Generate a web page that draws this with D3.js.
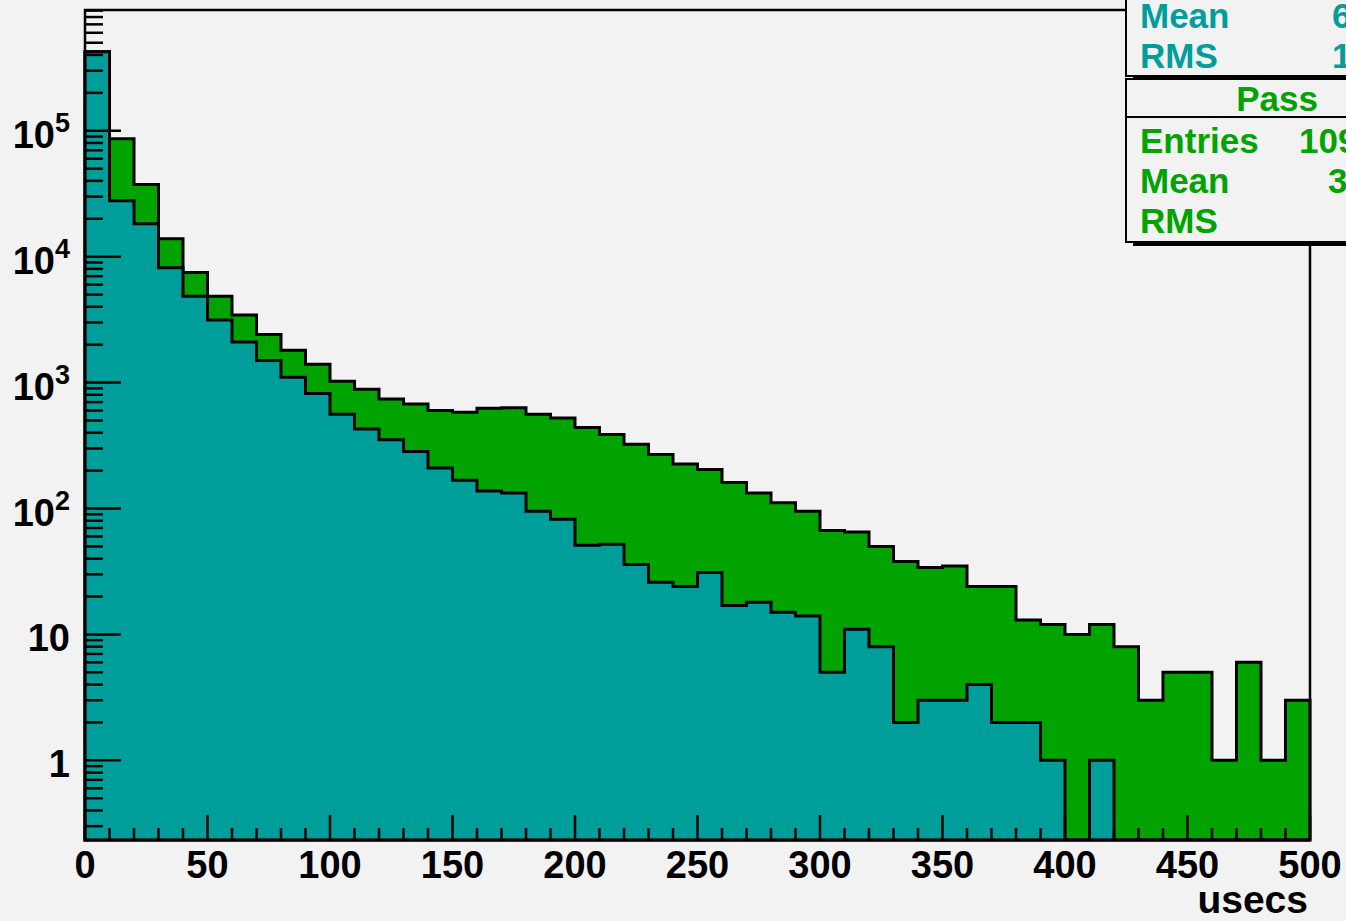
<!DOCTYPE html>
<html>
<head>
<meta charset="utf-8">
<script src="https://cdn.jsdelivr.net/npm/d3@7/dist/d3.min.js"></script>
<style>
  html, body { margin: 0; padding: 0; background: #f2f2f2; overflow: hidden; }
  svg { display: block; }
  text { font-family: "Liberation Sans", Arial, Helvetica, sans-serif; font-weight: bold; }
</style>
</head>
<body>
<svg id="chart" width="1346" height="921"></svg>
<script>
// ---- data ----
const binStarts = [0,10,20,30,40,50,60,70,80,90,100,110,120,130,140,150,160,170,180,190,
                   200,210,220,230,240,250,260,270,280,290,300,310,320,330,340,350,360,370,380,390,
                   400,410,420,430,440,450,460,470,480,490];
const binWidth = 10;
const tealCounts = [424000,27800,18300,8180,4840,3140,2100,1496,1102,818,
                    560,428,352,283,210,168,138,133,95,82,
                    51,52,36,26,24,31,17,18,15,14,
                    5,11,8,2,3,3,4,2,2,1,
                    0,1,0,0,0,0,0,0,0,0];
const passCounts = [424000,86500,37500,13900,7500,4840,3440,2405,1803,1397,
                    1024,885,741,677,600,581,625,632,560,524,
                    440,387,324,268,226,204,161,133,111,95,
                    67,65,50,38,34,35,24,24,13,12,
                    10,12,8,3,5,5,1,6,1,3];
const xTickValues = [0,50,100,150,200,250,300,350,400,450,500];
const xTickLabels = ["0","50","100","150","200","250","300","350","400","450","500"];
const yTickValues = [1,10,100,1000,10000,100000];
const yTickBase   = ["1","10","10","10","10","10"];
const yTickExp    = ["","","2","3","4","5"];
const xTitle = "usecs";
const statsTeal = [["Mean","6"],["RMS","1"]];
const statsPass = {title:"Pass", rows:[["Entries","109"],["Mean","3"],["RMS",""]]};

// ---- layout ----
const L = 85, R = 1310, T = 10, B = 840;
const TEAL = "#009e9a", GREEN = "#00a300";
const svg = d3.select("#chart");
svg.append("rect").attr("width",1346).attr("height",921).attr("fill","#f2f2f2");

const x = d3.scaleLinear().domain([0,500]).range([L,R]);
const y = d3.scaleLog().domain([0.233, 9.1e5]).range([B,T]).clamp(true);
const yv = v => v > 0 ? y(v) : B;

function histPath(counts){
  const p = d3.path();
  p.moveTo(x(binStarts[0]), B);
  counts.forEach((c,i)=>{
    p.lineTo(x(binStarts[i]), yv(c));
    p.lineTo(x(binStarts[i]+binWidth), yv(c));
  });
  p.lineTo(x(binStarts[binStarts.length-1]+binWidth), B);
  p.closePath();
  return p.toString();
}

svg.append("path").attr("d", histPath(passCounts))
  .attr("fill", GREEN).attr("stroke","#000").attr("stroke-width",3).attr("stroke-linejoin","miter");
svg.append("path").attr("d", histPath(tealCounts))
  .attr("fill", TEAL).attr("stroke","#000").attr("stroke-width",3).attr("stroke-linejoin","miter");

// frame
svg.append("rect").attr("x",L).attr("y",T).attr("width",R-L).attr("height",B-T)
  .attr("fill","none").attr("stroke","#000").attr("stroke-width",2.5);

// y ticks (inward)
const yTicksAll = y.ticks();
const isMajor = v => Math.abs(Math.log10(v) - Math.round(Math.log10(v))) < 1e-9;
svg.append("g").selectAll("line").data(yTicksAll).join("line")
  .attr("x1",L).attr("x2",d=> L + (isMajor(d)?36:18))
  .attr("y1",d=>y(d)).attr("y2",d=>y(d))
  .attr("stroke","#000").attr("stroke-width",2.5);

// x ticks (inward)
const xMinor = x.ticks(50);
svg.append("g").selectAll("line").data(xMinor).join("line")
  .attr("x1",d=>x(d)).attr("x2",d=>x(d))
  .attr("y1",B).attr("y2",d=> B - (d % 50 === 0 ? 25 : 12))
  .attr("stroke","#000").attr("stroke-width",2.5);

// x labels
svg.append("g").selectAll("text").data(xTickValues).join("text")
  .attr("x",d=>x(d)).attr("y",878).attr("text-anchor","middle")
  .attr("font-size",38).attr("fill","#000")
  .text((d,i)=>xTickLabels[i]);

// y labels
const yl = svg.append("g").selectAll("text").data(yTickValues).join("text")
  .attr("x",70).attr("y",d=>y(d)+17).attr("text-anchor","end")
  .attr("font-size",38).attr("fill","#000");
yl.each(function(d,i){
  const t = d3.select(this);
  t.append("tspan").text(yTickBase[i]);
  if (yTickExp[i]) {
    t.append("tspan").attr("font-size",27).attr("dy",-16).text(yTickExp[i]);
  }
});

// x title
svg.append("text").attr("x",1308).attr("y",913).attr("text-anchor","end")
  .attr("font-size",39).attr("fill","#000").text(xTitle);

// ---- stats boxes ----
const BX = 1126;
const FS = 35;
// teal box
svg.append("rect").attr("x",BX+7).attr("y",76).attr("width",260).attr("height",4).attr("fill","#000");
svg.append("rect").attr("x",BX).attr("y",-10).attr("width",260).attr("height",86)
  .attr("fill","#f2f2f2").attr("stroke","#000").attr("stroke-width",2);
statsTeal.forEach((r,i)=>{
  const by = [28,68][i];
  svg.append("text").attr("x",1140).attr("y",by).attr("font-size",FS).attr("fill",TEAL).text(r[0]);
  svg.append("text").attr("x",1332).attr("y",by).attr("font-size",FS).attr("fill",TEAL).text(r[1]);
});
// pass box
svg.append("rect").attr("x",BX+7).attr("y",242).attr("width",260).attr("height",4).attr("fill","#000");
svg.append("rect").attr("x",BX).attr("y",79).attr("width",260).attr("height",163)
  .attr("fill","#f2f2f2").attr("stroke","#000").attr("stroke-width",2);
svg.append("rect").attr("x",BX+7).attr("y",76).attr("width",260).attr("height",4).attr("fill","#000");
svg.append("line").attr("x1",BX).attr("x2",BX+260).attr("y1",117).attr("y2",117)
  .attr("stroke","#000").attr("stroke-width",2);
svg.append("text").attr("x",1277).attr("y",111).attr("text-anchor","middle")
  .attr("font-size",FS).attr("fill",GREEN).text(statsPass.title);
statsPass.rows.forEach((r,i)=>{
  const by = [153,193,233][i];
  svg.append("text").attr("x",1140).attr("y",by).attr("font-size",FS).attr("fill",GREEN).text(r[0]);
  if (r[1]) svg.append("text").attr("x",[1299,1328,1328][i]).attr("y",by).attr("font-size",FS).attr("fill",GREEN).text(r[1]);
});
</script>
</body>
</html>
